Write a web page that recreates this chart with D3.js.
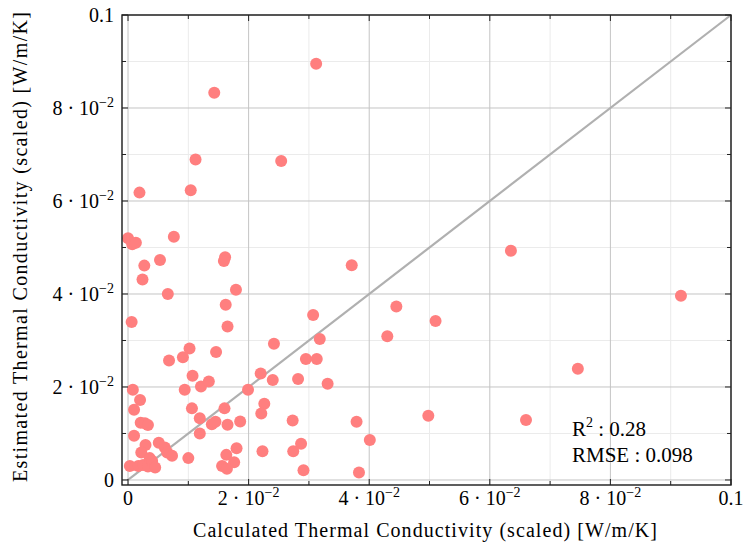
<!DOCTYPE html>
<html>
<head>
  <meta charset="utf-8">
  <title>Thermal Conductivity Parity</title>
  <script src="https://cdn.jsdelivr.net/npm/d3@7"></script>
  <style>
    body { margin: 0; background: #fff; }
    text { font-family: "Liberation Serif", "DejaVu Serif", serif; fill: #000; }
  </style>
</head>
<body>
  <script>
    // calculated (x) vs estimated (y) thermal conductivity, scaled
    const calculated = [
      0.0312, 0.0143, 0.0112, 0.0254, 0.0019, 0.0104, 0.0000, 0.0007, 0.0013, 0.0076,
      0.0053, 0.0027, 0.0024, 0.0066, 0.0161, 0.0159, 0.0179, 0.0162, 0.0165, 0.0006,
      0.0102, 0.0091, 0.0068, 0.0146, 0.0242, 0.0635, 0.0371, 0.0917, 0.0445, 0.0510,
      0.0430, 0.0746, 0.0498, 0.0379, 0.0660, 0.0401, 0.0383, 0.0307, 0.0318, 0.0295,
      0.0313, 0.0240, 0.0282, 0.0331, 0.0273, 0.0287, 0.0274, 0.0291, 0.0107, 0.0121,
      0.0134, 0.0094, 0.0220, 0.0199, 0.0106, 0.0160, 0.0226, 0.0221, 0.0119, 0.0139,
      0.0145, 0.0165, 0.0186, 0.0119, 0.0100, 0.0180, 0.0163, 0.0176, 0.0156, 0.0164,
      0.0223, 0.0008, 0.0020, 0.0010, 0.0021, 0.0028, 0.0033, 0.0010, 0.0029, 0.0022,
      0.0051, 0.0061, 0.0065, 0.0073, 0.0003, 0.0017, 0.0025, 0.0033, 0.0036, 0.0040,
      0.0045
    ];
    const estimated = [
      0.0895, 0.0833, 0.0689, 0.0686, 0.0618, 0.0623, 0.0520, 0.0507, 0.0510, 0.0523,
      0.0473, 0.0461, 0.0431, 0.0400, 0.0479, 0.0471, 0.0409, 0.0377, 0.0330, 0.0340,
      0.0283, 0.0264, 0.0257, 0.0275, 0.0293, 0.0493, 0.0462, 0.0396, 0.0373, 0.0342,
      0.0309, 0.0239, 0.0138, 0.0125, 0.0129, 0.0086, 0.0016, 0.0355, 0.0303, 0.0260,
      0.0260, 0.0215, 0.0217, 0.0207, 0.0128, 0.0078, 0.0062, 0.0021, 0.0224, 0.0201,
      0.0212, 0.0194, 0.0229, 0.0194, 0.0154, 0.0154, 0.0164, 0.0143, 0.0133, 0.0120,
      0.0125, 0.0119, 0.0126, 0.0100, 0.0047, 0.0068, 0.0054, 0.0038, 0.0030, 0.0024,
      0.0062, 0.0194, 0.0172, 0.0151, 0.0123, 0.0122, 0.0118, 0.0095, 0.0075, 0.0059,
      0.0080, 0.0070, 0.0059, 0.0052, 0.0030, 0.0030, 0.0032, 0.0029, 0.0047, 0.0041,
      0.0027
    ];
    const majorTicks = [0, 0.02, 0.04, 0.06, 0.08, 0.1];
    const minorTicks = [0.01, 0.03, 0.05, 0.07, 0.09];
    // [mantissa, exponent]; exponent null = plain number
    const tickLabels = [["0", null], ["2", "\u22122"], ["4", "\u22122"], ["6", "\u22122"], ["8", "\u22122"], ["0.1", null]];
    const stats = [["R", "2", " : 0.28"], ["RMSE", null, " : 0.098"]];

    const w = 745, h = 550;
    const pLeft = 122, pRight = 731, pTop = 15, pBottom = 485;

    const x = d3.scaleLinear().domain([-0.001, 0.1]).range([pLeft, pRight]);
    const y = d3.scaleLinear().domain([-0.00108, 0.1]).range([pBottom, pTop]);

    const svg = d3.select("body").append("svg")
      .attr("width", w)
      .attr("height", h);

    // grid
    const grid = svg.append("g");
    grid.selectAll(".gxm").data(minorTicks).enter().append("line")
      .attr("x1", d => x(d)).attr("x2", d => x(d))
      .attr("y1", pTop).attr("y2", pBottom)
      .attr("stroke", "#ebebeb").attr("stroke-width", 1);
    grid.selectAll(".gym").data(minorTicks).enter().append("line")
      .attr("y1", d => y(d)).attr("y2", d => y(d))
      .attr("x1", pLeft).attr("x2", pRight)
      .attr("stroke", "#ebebeb").attr("stroke-width", 1);
    grid.selectAll(".gx").data(majorTicks).enter().append("line")
      .attr("x1", d => x(d)).attr("x2", d => x(d))
      .attr("y1", pTop).attr("y2", pBottom)
      .attr("stroke", "#c4c4c4").attr("stroke-width", 1);
    grid.selectAll(".gy").data(majorTicks).enter().append("line")
      .attr("y1", d => y(d)).attr("y2", d => y(d))
      .attr("x1", pLeft).attr("x2", pRight)
      .attr("stroke", "#c4c4c4").attr("stroke-width", 1);

    // diagonal y = x
    svg.append("line")
      .attr("x1", x(0)).attr("y1", y(0))
      .attr("x2", x(0.1)).attr("y2", y(0.1))
      .attr("stroke", "#b0b0b0").attr("stroke-width", 2.2);

    // points
    svg.append("g").selectAll("circle")
      .data(calculated.map((c, i) => [c, estimated[i]]))
      .enter().append("circle")
      .attr("cx", d => x(d[0]))
      .attr("cy", d => y(d[1]))
      .attr("r", 6)
      .attr("fill", "#ff7f7f");

    // frame + inward ticks
    svg.append("rect")
      .attr("x", pLeft).attr("y", pTop)
      .attr("width", pRight - pLeft).attr("height", pBottom - pTop)
      .attr("fill", "none").attr("stroke", "#1a1a1a").attr("stroke-width", 1.4);

    const ticks = svg.append("g").attr("stroke", "#222").attr("stroke-width", 1);
    [[majorTicks, 6], [minorTicks, 4]].forEach(([vals, len]) => {
      vals.forEach(v => {
        ticks.append("line").attr("x1", x(v)).attr("x2", x(v)).attr("y1", pBottom).attr("y2", pBottom - len);
        ticks.append("line").attr("x1", x(v)).attr("x2", x(v)).attr("y1", pTop).attr("y2", pTop + len);
        ticks.append("line").attr("y1", y(v)).attr("y2", y(v)).attr("x1", pLeft).attr("x2", pLeft + len);
        ticks.append("line").attr("y1", y(v)).attr("y2", y(v)).attr("x1", pRight).attr("x2", pRight - len);
      });
    });

    function label(sel, d) {
      sel.append("tspan").text(d[0]);
      if (d[1]) {
        sel.append("tspan").text("\u2005\u00b7\u200510");
        sel.append("tspan").attr("font-size", 14).attr("dy", -8).text(d[1]);
      }
    }

    // x tick labels
    majorTicks.forEach((v, i) => {
      const t = svg.append("text")
        .attr("x", x(v)).attr("y", 505)
        .attr("text-anchor", "middle")
        .attr("font-size", 20);
      label(t, tickLabels[i]);
    });

    // y tick labels
    majorTicks.forEach((v, i) => {
      const t = svg.append("text")
        .attr("x", 114).attr("y", y(v) + 7)
        .attr("text-anchor", "end")
        .attr("font-size", 20);
      label(t, tickLabels[i]);
    });

    // axis titles
    svg.append("text")
      .attr("x", 425).attr("y", 537)
      .attr("text-anchor", "middle")
      .attr("font-size", 20)
      .attr("textLength", 464).attr("lengthAdjust", "spacing")
      .text("Calculated Thermal Conductivity (scaled) [W/m/K]");

    svg.append("text")
      .attr("transform", "translate(27,247) rotate(-90)")
      .attr("text-anchor", "middle")
      .attr("font-size", 20)
      .attr("textLength", 470).attr("lengthAdjust", "spacing")
      .text("Estimated Thermal Conductivity (scaled) [W/m/K]");

    // stats annotation
    stats.forEach((s, i) => {
      const t = svg.append("text")
        .attr("x", 572).attr("y", 436 + i * 26)
        .attr("font-size", 21);
      t.append("tspan").text(s[0]);
      if (s[1]) t.append("tspan").attr("font-size", 14).attr("dy", -9).text(s[1]);
      t.append("tspan").attr("dy", s[1] ? 9 : 0).text(s[2]);
    });
  </script>
</body>
</html>
